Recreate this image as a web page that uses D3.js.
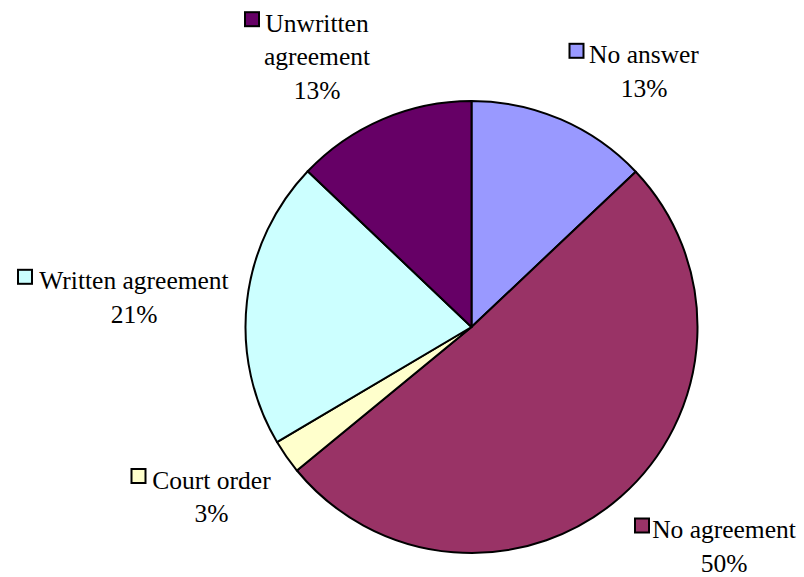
<!DOCTYPE html>
<html>
<head>
  <meta charset="utf-8">
  <script src="https://d3js.org/d3.v7.min.js"></script>
</head>
<body style="margin:0">
<script>
  // slices, clockwise from 12 o'clock
  var categories = ['No answer', 'No agreement', 'Court order', 'Written agreement', 'Unwritten agreement'];
  var values = [12.95, 51.1, 2.45, 20.6, 12.9];
  var pctLabels = ['13%', '50%', '3%', '21%', '13%'];
  var labelLines = [['No answer'], ['No agreement'], ['Court order'], ['Written agreement'], ['Unwritten', 'agreement']];
  var colors = ['#9999FF', '#993366', '#FFFFCC', '#CCFFFF', '#660066'];

  var w = 804, h = 577
  var cx = 471.5, cy = 327, r = 226
  var lineH = 33.7

  // label anchors: centre x of the text, first baseline, half width of first line
  var labelPos = [[644, 63.3, 54.5], [724, 538, 69], [211.5, 488.5, 60], [134, 289.3, 96], [317, 31.7, 52]];

  var svg = d3.select('body').append('svg')
      .attr('width', w)
      .attr('height', h)

  var pie = d3.pie().sort(null).value(function (d) { return d })
  var arc = d3.arc().innerRadius(0).outerRadius(r)

  svg.append('g')
      .attr('transform', 'translate(' + cx + ',' + cy + ')')
    .selectAll('path')
      .data(pie(values))
      .enter()
    .append('path')
      .attr('d', arc)
      .attr('fill', function (d, i) { return colors[i] })
      .attr('stroke', '#000')
      .attr('stroke-width', 2)
      .attr('stroke-linejoin', 'round')

  // labels, each with its legend key left of the first line
  categories.forEach(function (c, i) {
    var g = svg.append('g')
    var p = labelPos[i]
    g.append('rect')
        .attr('x', p[0] - p[2] - 5 - 15)
        .attr('y', p[1] - 4.5 - 15)
        .attr('width', 14)
        .attr('height', 14)
        .attr('fill', colors[i])
        .attr('stroke', '#000')
        .attr('stroke-width', 2)
    labelLines[i].concat([pctLabels[i]]).forEach(function (l, j) {
      g.append('text')
          .attr('x', p[0])
          .attr('y', p[1] + j * lineH)
          .attr('text-anchor', 'middle')
          .style('font-family', "'Liberation Serif'")
          .style('font-size', '25.5px')
          .text(l)
    })
  })
</script>
</body>
</html>
